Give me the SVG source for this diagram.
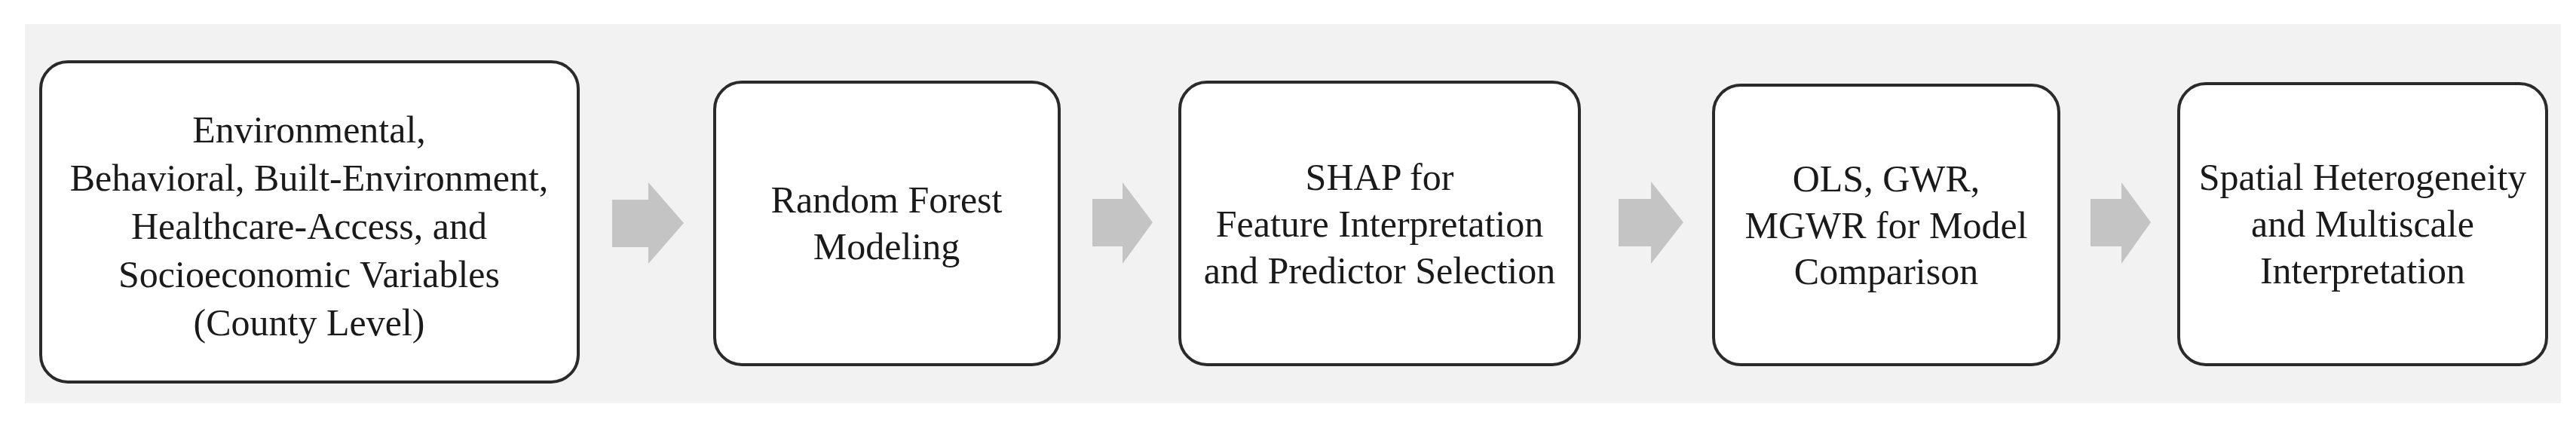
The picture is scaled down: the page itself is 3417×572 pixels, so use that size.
<svg xmlns="http://www.w3.org/2000/svg" width="3417" height="572" viewBox="0 0 3417 572">
  <style>
    .box { fill: #ffffff; stroke: #2a2a2a; stroke-width: 4; }
    .lbl { font-family: "Liberation Serif", "Times New Roman", serif; font-size: 50px; fill: #1a1a1a; text-anchor: middle; }
    .arrow { fill: #c4c4c4; }
  </style>
  <rect x="0" y="0" width="3417" height="572" fill="#ffffff"/>
  <rect x="33" y="32" width="3364" height="503" fill="#f2f2f2"/>

  <g id="connectors">
    <polygon class="arrow" points="812,265 860,265 860,242 907,296 860,350 860,328 812,328"/>
    <polygon class="arrow" points="1449,264 1489,264 1489,242 1529,295 1489,350 1489,327 1449,327"/>
    <polygon class="arrow" points="2147,264 2190,264 2190,241 2233,295 2190,350 2190,327 2147,327"/>
    <polygon class="arrow" points="2773,264 2814,264 2814,242 2853,295 2814,350 2814,327 2773,327"/>
  </g>

  <g id="node-variables">
    <rect class="box" x="54" y="82" width="713" height="425" rx="36" ry="36"/>
    <text class="lbl" x="410" y="189">Environmental,</text>
    <text class="lbl" x="410" y="253">Behavioral, Built-Environment,</text>
    <text class="lbl" x="410" y="317">Healthcare-Access, and</text>
    <text class="lbl" x="410" y="381">Socioeconomic Variables</text>
    <text class="lbl" x="410" y="445">(County Level)</text>
  </g>

  <g id="node-rf">
    <rect class="box" x="948" y="109" width="457" height="375" rx="36" ry="36"/>
    <text class="lbl" x="1176" y="282">Random Forest</text>
    <text class="lbl" x="1176" y="344">Modeling</text>
  </g>

  <g id="node-shap">
    <rect class="box" x="1565" y="109" width="530" height="375" rx="36" ry="36"/>
    <text class="lbl" x="1830" y="252">SHAP for</text>
    <text class="lbl" x="1830" y="314">Feature Interpretation</text>
    <text class="lbl" x="1830" y="376">and Predictor Selection</text>
  </g>

  <g id="node-models">
    <rect class="box" x="2273" y="113" width="458" height="371" rx="36" ry="36"/>
    <text class="lbl" x="2502" y="254">OLS, GWR,</text>
    <text class="lbl" x="2502" y="316">MGWR for Model</text>
    <text class="lbl" x="2502" y="377">Comparison</text>
  </g>

  <g id="node-spatial">
    <rect class="box" x="2890" y="111" width="488" height="373" rx="36" ry="36"/>
    <text class="lbl" x="3134" y="252">Spatial Heterogeneity</text>
    <text class="lbl" x="3134" y="314">and Multiscale</text>
    <text class="lbl" x="3134" y="376">Interpretation</text>
  </g>
</svg>
